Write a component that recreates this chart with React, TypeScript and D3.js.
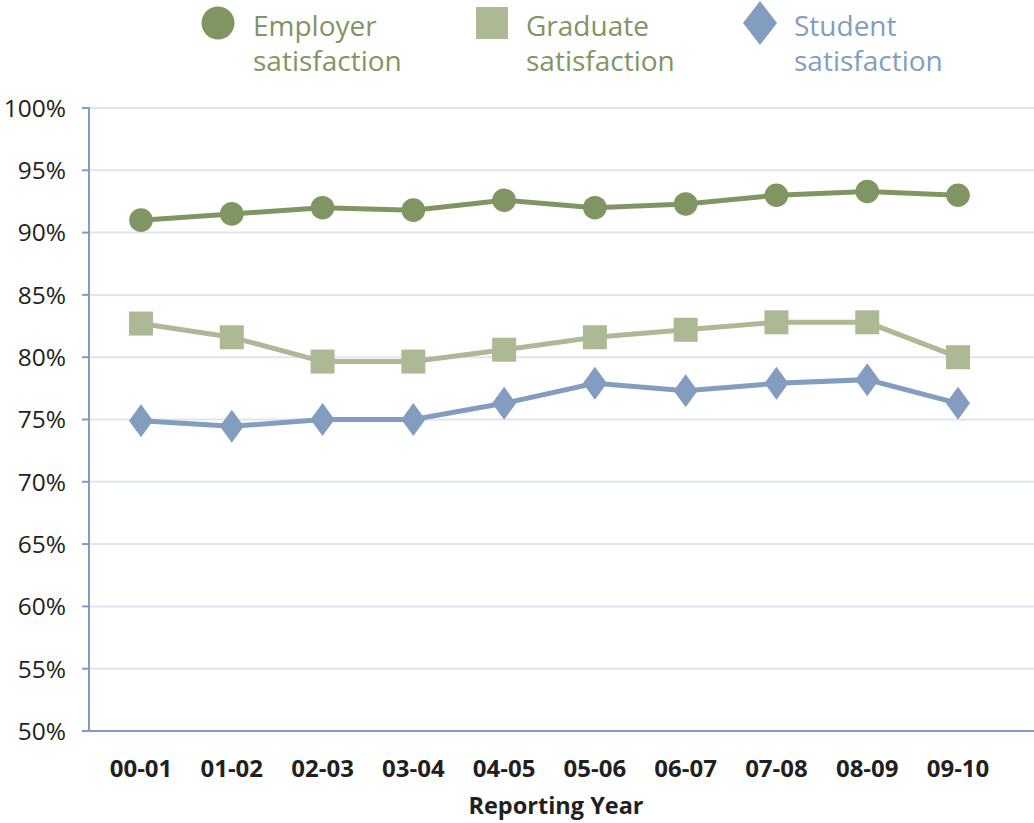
import React from 'react'
import * as d3 from 'd3'

const years = ['00-01', '01-02', '02-03', '03-04', '04-05', '05-06', '06-07', '07-08', '08-09', '09-10']
const employer = [91.0, 91.5, 92.0, 91.8, 92.6, 92.0, 92.3, 93.0, 93.3, 93.0]
const graduate = [82.7, 81.6, 79.65, 79.65, 80.6, 81.6, 82.2, 82.8, 82.8, 80.0]
const student = [74.9, 74.45, 75.0, 75.0, 76.3, 77.9, 77.3, 77.9, 78.2, 76.3]
const yTicks = [50, 55, 60, 65, 70, 75, 80, 85, 90, 95, 100]

const W = 1034
const H = 823
const left = 89
const top = 108
const bottom = 731
const FONT = "'Open Sans', sans-serif"

const C_EMP = '#819563'
const C_GRAD = '#adb994'
const C_STU = '#829dc0'
const C_AXIS = '#809dc1'
const C_GRID = '#dfe4ee'

const diamond = (w: number, h: number) => `M0,${-h / 2}L${w / 2},0L0,${h / 2}L${-w / 2},0Z`

const series = [
  { name: ['Employer', 'satisfaction'], values: employer, color: C_EMP, shape: 'circle', lx: 218, tx: 253 },
  { name: ['Graduate', 'satisfaction'], values: graduate, color: C_GRAD, shape: 'square', lx: 492, tx: 526, textColor: C_EMP },
  { name: ['Student', 'satisfaction'], values: student, color: C_STU, shape: 'diamond', lx: 760, tx: 794 },
]

const Marker = ({ shape, color, x, y, big }: any) => {
  if (shape === 'circle') return <circle cx={x} cy={y} r={big ? 16.5 : 11.8} fill={color} />
  if (shape === 'square') {
    const s = big ? 32 : 24
    return <rect x={x - s / 2} y={y - s / 2} width={s} height={s} fill={color} />
  }
  return <path transform={`translate(${x},${y})`} d={big ? diamond(34, 44) : diamond(24, 33)} fill={color} />
}

export default function App() {
  const x = d3.scalePoint<string>().domain(years).range([left + 52, left + 869])
  const y = d3.scaleLinear().domain([50, 100]).range([bottom, top])
  const line = d3
    .line<number>()
    .x((_, i) => x(years[i]) as number)
    .y((d) => y(d))

  return (
    <svg width={W} height={H} style={{ position: 'absolute', left: 0, top: 0, background: '#fff' }}>
      {/* grid + y ticks */}
      {yTicks.map((t) => (
        <g key={t}>
          {t > 50 && <line x1={left} x2={W} y1={y(t)} y2={y(t)} stroke={C_GRID} strokeWidth={2} />}
          <line x1={left - 7} x2={left} y1={y(t)} y2={y(t)} stroke={C_AXIS} strokeWidth={2} />
          <text x={66} y={y(t)} dy="0.36em" textAnchor="end" fontFamily={FONT} fontSize={24.5} fill="#231f20">
            {t}%
          </text>
        </g>
      ))}
      <line x1={left} x2={left} y1={top - 1} y2={bottom} stroke={C_AXIS} strokeWidth={2} />
      <line x1={left} x2={W} y1={bottom} y2={bottom} stroke={C_AXIS} strokeWidth={2} />

      {/* x labels */}
      {years.map((yr) => (
        <text key={yr} x={x(yr)} y={768} dy="0.36em" textAnchor="middle" fontFamily={FONT} fontWeight="bold" fontSize={24} fill="#231f20">
          {yr}
        </text>
      ))}
      <text x={556} y={806} dy="0.36em" textAnchor="middle" fontFamily={FONT} fontWeight="bold" fontSize={23.5} fill="#231f20">
        Reporting Year
      </text>

      {/* series */}
      {series.map((s) => (
        <g key={s.name[0]}>
          <path d={line(s.values) || ''} fill="none" stroke={s.color} strokeWidth={5} />
          {s.values.map((v, i) => (
            <Marker key={i} shape={s.shape} color={s.color} x={x(years[i])} y={y(v)} />
          ))}
        </g>
      ))}

      {/* legend */}
      {series.map((s) => (
        <g key={'lg' + s.name[0]}>
          <Marker shape={s.shape} color={s.color} x={s.lx} y={23} big />
          <text x={s.tx} y={36} fontFamily={FONT} fontSize={28} fill={s.textColor || s.color}>
            {s.name[0]}
          </text>
          <text x={s.tx} y={71} fontFamily={FONT} fontSize={28} fill={s.textColor || s.color}>
            {s.name[1]}
          </text>
        </g>
      ))}
    </svg>
  )
}
